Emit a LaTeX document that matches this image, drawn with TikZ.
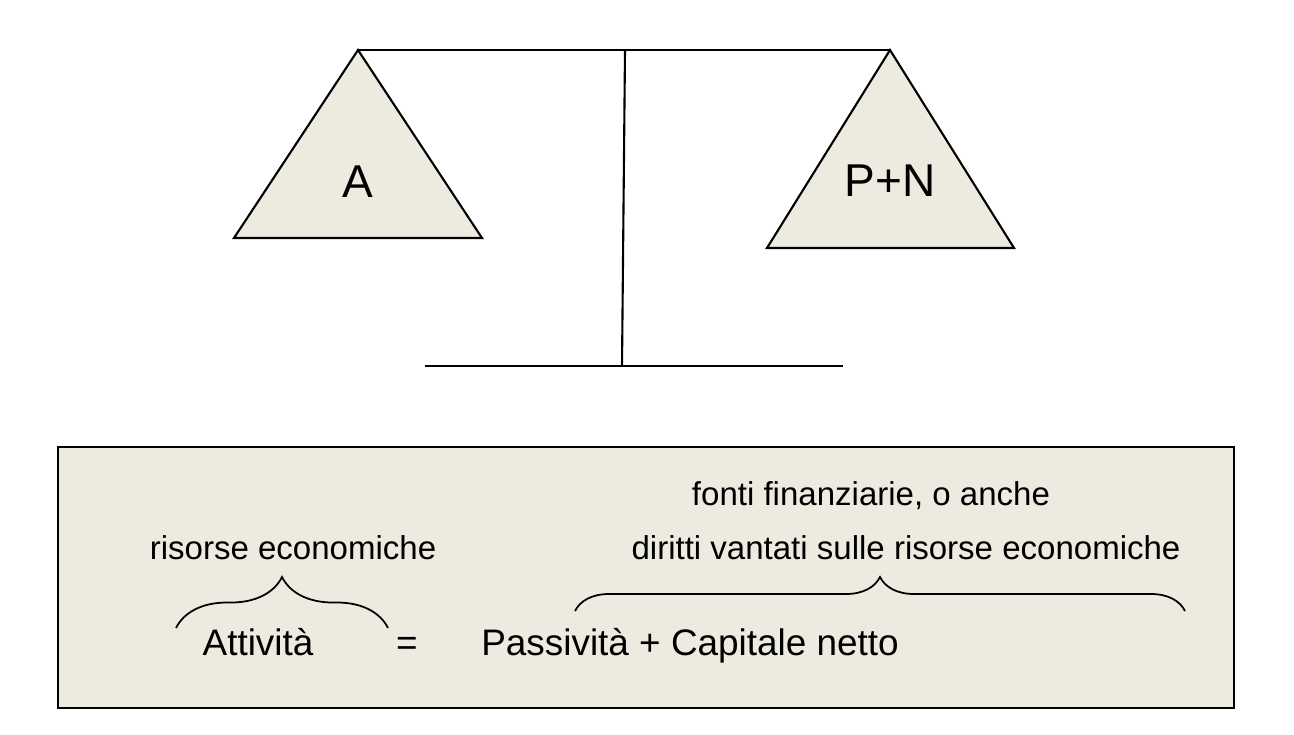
\documentclass[tikz,border=0pt]{standalone}
\usepackage{fontspec}
\setmainfont{Liberation Sans}
\usepackage{tikz}
\usetikzlibrary{decorations.pathreplacing}
\definecolor{pan}{RGB}{237,235,224}
\tikzset{plate/.style={draw,fill=pan,line width=1.2pt,line join=miter},
  big/.style={font=\fontsize{26.2}{30}\selectfont,anchor=base,inner sep=0pt},
  eq/.style={font=\fontsize{21}{25}\selectfont,anchor=base,inner sep=0pt},
  note/.style={font=\fontsize{18.8}{22}\selectfont,anchor=base,inner sep=0pt},
  brc/.style={decorate,decoration={brace,amplitude=#1},line width=1pt}}

\begin{document}
\begin{tikzpicture}[x=0.02cm,y=-0.02cm]
        \useasboundingbox (0,0) rectangle (1294,734);

        % bilancia
        \coordinate (la) at (358,50);
        \coordinate (ra) at (890,50);
        \coordinate (pt) at (625,50);
        \coordinate (pb) at (622,366);
        \coordinate (bl) at (425,366);
        \coordinate (br) at (843,366);

        \draw[plate] (la) -- (234,238) -- (482,238) -- cycle;
        \draw[plate] (ra) -- (767,248) -- (1014,248) -- cycle;
        \node[big] (a) at (358,197) {A};
        \node[big] (pn) at (890,196) {P+N};

        \draw [line width=1.2pt] (la) -- (ra);
        \draw [line width=1.2pt] (pt) -- (pb);
        \draw [line width=1.2pt] (bl) -- (br);

        % riquadro
        \draw[plate] (58,447) rectangle (1234,708);

        \node[note] (fonti) at (871,505) {fonti finanziarie, o anche};
        \node[note] (diritti) at (906,559) {diritti vantati sulle risorse economiche};
        \node[note] (risorse) at (293,559) {risorse economiche};

        \draw [brc=1.02cm] (176,628) -- (388,628);
        \draw [brc=0.68cm] (575,611) -- (1185,611);

        \node[eq] (att) at (258,655) {Attività};
        \node[eq] (uguale) at (407,655) {=};
        \node[eq,anchor=base west] (pass) at (481,655) {Passività + Capitale netto};

    \end{tikzpicture}
\end{document}
